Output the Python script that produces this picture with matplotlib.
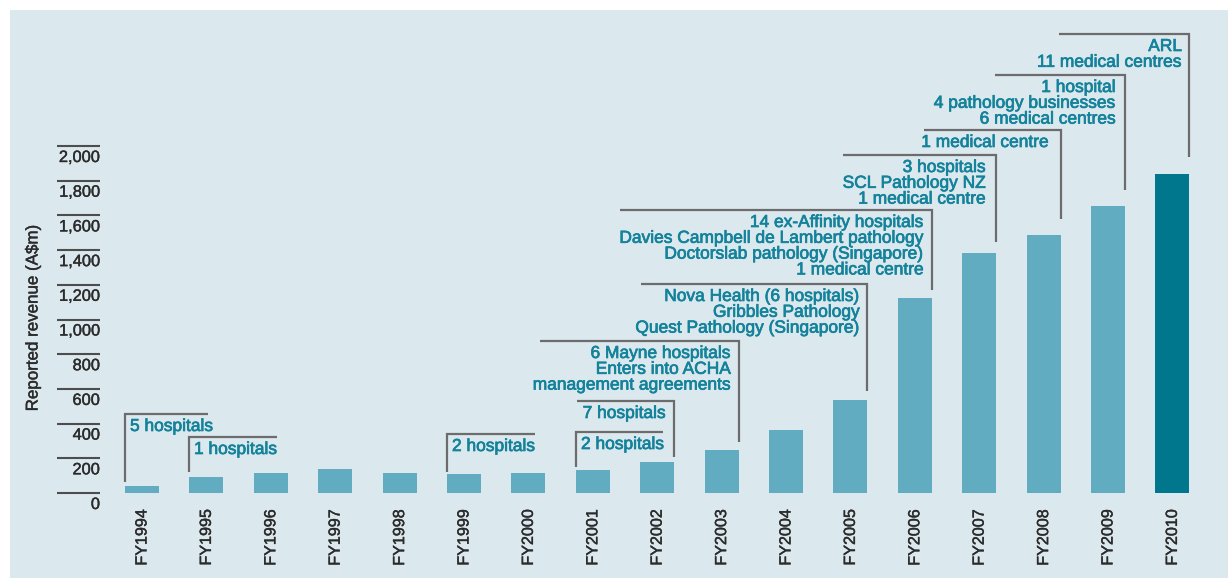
import matplotlib
matplotlib.use("Agg")
import matplotlib.pyplot as plt
import matplotlib.patheffects as pe
from matplotlib.patches import Rectangle

# ---------------- data ----------------
years = ["FY1994", "FY1995", "FY1996", "FY1997", "FY1998", "FY1999", "FY2000",
         "FY2001", "FY2002", "FY2003", "FY2004", "FY2005", "FY2006", "FY2007",
         "FY2008", "FY2009", "FY2010"]
revenue = [40, 92, 115, 138, 115, 110, 115, 133, 179, 248, 363, 536, 1124,
           1383, 1487, 1654, 1839]
y_ticks = [0, 200, 400, 600, 800, 1000, 1200, 1400, 1600, 1800, 2000]
y_label = "Reported revenue (A$m)"

ann_years = ["FY1994", "FY1995", "FY1999", "FY2001", "FY2002", "FY2003",
             "FY2005", "FY2006", "FY2007", "FY2008", "FY2009", "FY2010"]
ann_texts = [
    ["5 hospitals"],
    ["1 hospitals"],
    ["2 hospitals"],
    ["2 hospitals"],
    ["7 hospitals"],
    ["6 Mayne hospitals", "Enters into ACHA", "management agreements"],
    ["Nova Health (6 hospitals)", "Gribbles Pathology", "Quest Pathology (Singapore)"],
    ["14 ex-Affinity hospitals", "Davies Campbell de Lambert pathology",
     "Doctorslab pathology (Singapore)", "1 medical centre"],
    ["3 hospitals", "SCL Pathology NZ", "1 medical centre"],
    ["1 medical centre"],
    ["1 hospital", "4 pathology businesses", "6 medical centres"],
    ["ARL", "11 medical centres"],
]

# ---------------- layout (pixel-based, figure 1228x578) ----------------
W, H = 1228, 578
X0, DX = 142.0, 64.4          # pixel centre of first bar, bar spacing
Y0, PPU = 493.0, 0.1735       # pixel row of value 0, pixels per unit
BAR_W = 34 / DX

def px_x(x):
    return (x - X0) / DX

def px_y(y):
    return (Y0 - y) / PPU

# bracket layout: side, bottom px, top px, far-end px, text-anchor px
ann_layout = [
    ("L", 482, 414, 208, 130),
    ("L", 472, 437, 277, 194),
    ("L", 472, 434, 535, 452),
    ("L", 467, 432, 663, 581),
    ("R", 457, 401, 577, 666),
    ("R", 442, 341, 540, 731),
    ("R", 391, 284, 641, 860),
    ("R", 290, 210, 620, 924),
    ("R", 242, 155, 843, 986),
    ("R", 219, 130, 924, 1049),
    ("R", 190, 75, 995, 1116),
    ("R", 157, 34, 1059, 1182),
]

BG = "#dbe8ee"
BAR = "#61acc1"
BAR_DARK = "#00778c"
TEAL = "#13829a"
GREY = "#6c6c6c"
DARK = "#2b2b2b"
FONT = "Liberation Sans"

def thick(color, w=0.45):
    return [pe.withStroke(linewidth=w, foreground=color)]

fig = plt.figure(figsize=(W / 100, H / 100), dpi=100, facecolor="white")
fig.patches.append(Rectangle((10 / W, 0), 1, 1 - 10 / H, transform=fig.transFigure,
                             facecolor=BG, edgecolor="none", zorder=-10))
ax = fig.add_axes([0, 0, 1, 1])
ax.set_facecolor("none")
ax.set_xlim(px_x(0), px_x(W))
ax.set_ylim(px_y(H), px_y(0))
ax.axis("off")

# bars
xs = list(range(len(years)))
colors = [BAR] * (len(years) - 1) + [BAR_DARK]
ax.bar(xs, revenue, width=BAR_W, color=colors, zorder=2)

# y-axis tick segments and labels
for t in y_ticks:
    ax.plot([px_x(57), px_x(100)], [t, t], color="#4d4d4d", lw=1.5,
            solid_capstyle="butt", zorder=3)
    ax.text(px_x(100), t - 11.5 / PPU, f"{t:,}", ha="right", va="center",
            fontsize=11.8, color=DARK, family=FONT,
            path_effects=thick(DARK, 0.3))

ax.text(px_x(33), px_y(318), y_label, rotation=90, ha="center", va="center",
        fontsize=12.2, color=DARK, family=FONT, path_effects=thick(DARK, 0.3))

# x labels
for i, lab in enumerate(years):
    ax.text(i, px_y(509), lab, rotation=90, ha="center", va="top",
            fontsize=11.6, color=DARK, family=FONT, path_effects=thick(DARK, 0.3))

# annotation brackets
LINE_H = 15.8
for yr, lines, (side, yb, yt, xf, xt) in zip(ann_years, ann_texts, ann_layout):
    i = years.index(yr)
    xv = i - BAR_W / 2 if side == "L" else i + BAR_W / 2
    ax.plot([xv, xv, px_x(xf)], [px_y(yb), px_y(yt), px_y(yt)], color=GREY,
            lw=1.6, solid_joinstyle="miter", solid_capstyle="butt", zorder=3)
    ha = "left" if side == "L" else "right"
    for k, ln in enumerate(lines):
        ax.text(px_x(xt), px_y(yt + 12.5 + k * LINE_H), ln, ha=ha, va="center",
                fontsize=12.5, color=TEAL, family=FONT,
                path_effects=thick(TEAL, 0.5))

fig.savefig("out.png", dpi=100, facecolor="white")
